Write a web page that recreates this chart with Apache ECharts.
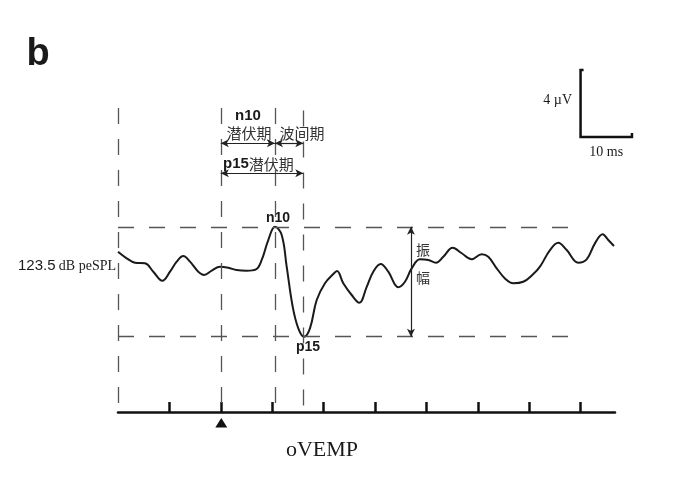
<!DOCTYPE html>
<html>
<head>
<meta charset="utf-8">
<script src="https://cdn.jsdelivr.net/npm/echarts@6/dist/echarts.min.js"></script>
<style>
  html, body { margin: 0; padding: 0; background: #fff; }
  #chart { width: 673px; height: 498px; }
</style>
</head>
<body>
<div id="chart"></div>
<script>
// ---- data (time in ms relative to stimulus, amplitude in µV) ----
const timeMs = [-20.0,-18.31,-16.69,-14.75,-13.13,-11.38,-9.88,-8.58,-7.30,-5.99,-4.38,-3.27,-1.77,-0.16,1.46,3.09,5.04,6.85,7.96,9.24,10.54,11.85,12.82,13.99,15.08,16.19,17.35,18.66,20.27,21.89,22.61,23.83,25.47,26.95,28.39,29.67,31.11,32.59,34.53,35.84,37.14,38.75,40.37,41.87,43.29,45.12,46.87,48.81,50.76,52.04,53.68,55.29,56.91,58.85,60.80,62.10,64.05,65.66,67.30,69.55,71.19,72.80,74.30,75.39,76.50];
const amplitudeUv = [1.06,0.67,0.41,0.37,-0.13,-0.67,-0.13,0.47,0.81,0.47,-0.13,-0.33,-0.07,0.17,0.11,-0.03,-0.07,0.01,0.57,1.76,2.55,2.06,0.17,-2.22,-3.51,-4.01,-3.51,-1.82,-0.82,-0.27,-0.09,-0.82,-1.52,-1.98,-1.03,-0.13,0.33,-0.13,-1.06,-0.73,0.07,0.61,0.57,0.41,0.76,1.30,0.97,0.61,0.91,0.76,0.07,-0.53,-0.82,-0.73,-0.27,0.17,1.16,1.60,1.16,0.41,0.61,1.56,2.10,1.76,1.40];
const tickValues = [-10, 0, 10, 20, 30, 40, 50, 60, 70];
const stimulusMs = 0;
const n10Ms = 10.54, p15Ms = 16.05;
const n10Uv = 2.55, p15Uv = -4.01;
const guideStartMs = -20, guideEndMs = 68.9, guideTopUv = 9.64;
const amplitudeArrowMs = 37.0;
const latencyArrowUv = 7.53, p15ArrowUv = 5.74;
const scaleBarMs = [70, 80], scaleBarUv = [7.9, 11.9];

const xMin = -20, xMax = 76.7, yMin = -8.5, yMax = 12.5;

const chart = echarts.init(document.getElementById('chart'), null, { renderer: 'canvas' });

const dash = { type: [16, 15], color: '#555', width: 1.3 };
const guideLines = [
  [{ coord: [guideStartMs, guideTopUv] }, { coord: [guideStartMs, yMin] }],
  [{ coord: [stimulusMs, guideTopUv] }, { coord: [stimulusMs, yMin] }],
  [{ coord: [n10Ms, guideTopUv] }, { coord: [n10Ms, yMin] }],
  [{ coord: [p15Ms, guideTopUv - 0.15] }, { coord: [p15Ms, yMin] }],
  [{ coord: [guideStartMs, n10Uv] }, { coord: [guideEndMs, n10Uv] }],
  [{ coord: [guideStartMs, p15Uv] }, { coord: [guideEndMs, p15Uv] }]
];
const arrowLines = [
  [{ coord: [stimulusMs, latencyArrowUv] }, { coord: [n10Ms, latencyArrowUv] }],
  [{ coord: [n10Ms, latencyArrowUv] }, { coord: [p15Ms, latencyArrowUv] }],
  [{ coord: [stimulusMs, p15ArrowUv] }, { coord: [p15Ms, p15ArrowUv] }],
  [{ coord: [amplitudeArrowMs, n10Uv] }, { coord: [amplitudeArrowMs, p15Uv] }]
];

chart.setOption({
  animation: false,
  backgroundColor: '#fff',
  grid: { left: 118, right: 58, top: 60, bottom: 86 },
  xAxis: {
    type: 'value', min: xMin, max: xMax,
    axisLine: { show: true, onZero: false, lineStyle: { color: '#111', width: 2.5 } },
    axisTick: { show: true, inside: true, length: 10, lineStyle: { color: '#111', width: 2.5 }, customValues: tickValues },
    axisLabel: { show: false },
    splitLine: { show: false }
  },
  yAxis: {
    type: 'value', min: yMin, max: yMax, show: false,
    splitLine: { show: false }
  },
  series: [
    {
      type: 'line', data: [], silent: true,
      markLine: { silent: true, symbol: ['none', 'none'], label: { show: false }, lineStyle: dash, data: guideLines, animation: false }
    },
    {
      type: 'line', data: [], silent: true,
      markLine: { silent: true, symbol: ['arrow', 'arrow'], symbolSize: [6, 8], label: { show: false },
        lineStyle: { type: 'solid', color: '#222', width: 1.2 }, data: arrowLines, animation: false }
    },
    {
      type: 'line',
      data: timeMs.map((t, i) => [t, amplitudeUv[i]]),
      smooth: 0.4,
      symbol: 'none',
      lineStyle: { color: '#1a1a1a', width: 2 },
      silent: true
    }
  ]
});

const px = (t, v) => chart.convertToPixel({ gridIndex: 0 }, [t, v]);
const barOrigin = px(scaleBarMs[0], scaleBarUv[0]);
const barTop = px(scaleBarMs[0], scaleBarUv[1]);
const barRight = px(scaleBarMs[1], scaleBarUv[0]);
const stim = px(stimulusMs, yMin);

const serif = '"Liberation Serif", "Times New Roman", serif';
const sans = '"Liberation Sans", Arial, sans-serif';
const cjk = '"Noto Sans CJK SC", sans-serif';
const txt = (x, y, text, font, align, fill) => ({
  type: 'text', x, y, silent: true,
  style: { text, font, fill: fill || '#1a1a1a', align: align || 'center', verticalAlign: 'middle' }
});

chart.setOption({
  graphic: [
    // scale bar
    { type: 'polyline', silent: true, shape: { points: [[barTop[0] + 3, barTop[1]], barTop, barOrigin, barRight, [barRight[0], barOrigin[1] - 4]] },
      style: { stroke: '#111', lineWidth: 2.5, fill: null } },
    txt(572, 100, '4 µV', '14px ' + serif, 'right'),
    txt((barOrigin[0] + barRight[0]) / 2, 152, '10 ms', '14px ' + serif, 'center'),
    // stimulus marker
    { type: 'polygon', silent: true, shape: { points: [[stim[0] + 0.5, stim[1] + 6], [stim[0] - 5.5, stim[1] + 15.5], [stim[0] + 6.5, stim[1] + 15.5]] },
      style: { fill: '#111' } },
    // panel letter
    txt(38, 55, 'b', 'bold 38px ' + sans, 'center'),
    // level label
    { type: 'text', x: 116, y: 266, silent: true,
      style: { text: '{a|123.5} {b|dB peSPL}', align: 'right', verticalAlign: 'middle', fill: '#1a1a1a',
        rich: { a: { font: '15px ' + sans, fill: '#1a1a1a' }, b: { font: '14px ' + serif, fill: '#1a1a1a' } } } },
    // latency annotations
    txt(248, 116, 'n10', 'bold 15px ' + sans),
    txt(249, 133, '潜伏期', '15px ' + cjk, 'center', '#333'),
    txt(302, 133, '波间期', '15px ' + cjk, 'center', '#333'),
    { type: 'text', x: 223, y: 164, silent: true,
      style: { text: '{a|p15}{b|潜伏期}', align: 'left', verticalAlign: 'middle', fill: '#1a1a1a',
        rich: { a: { font: 'bold 15px ' + sans, fill: '#1a1a1a' }, b: { font: '15px ' + cjk, fill: '#333' } } } },
    // peak labels
    txt(278, 218, 'n10', 'bold 14px ' + sans),
    txt(308, 347, 'p15', 'bold 14px ' + sans),
    // amplitude label
    txt(423, 250, '振', '14px ' + cjk, 'center', '#333'),
    txt(423, 278, '幅', '14px ' + cjk, 'center', '#333'),
    // bottom title
    txt(322, 450, 'oVEMP', '22px ' + serif)
  ]
});
</script>
</body>
</html>
